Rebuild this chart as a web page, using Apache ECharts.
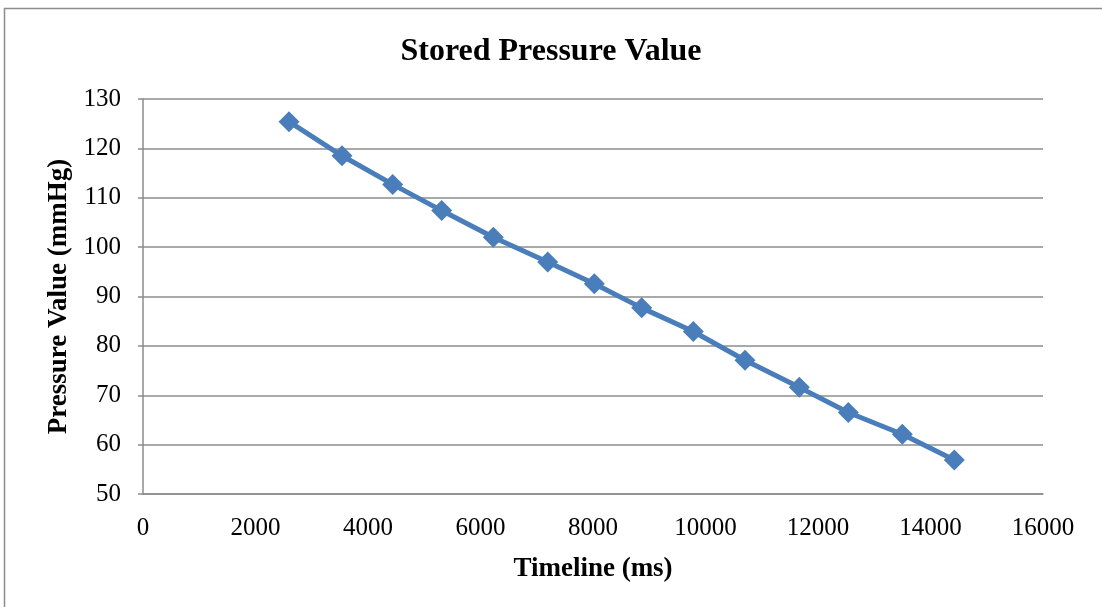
<!DOCTYPE html>
<html>
<head>
<meta charset="utf-8">
<script src="https://cdn.jsdelivr.net/npm/echarts@6/dist/echarts.min.js"></script>
<style>
  html, body { margin: 0; padding: 0; background: #ffffff; }
  #chart { width: 1102px; height: 607px; }
</style>
</head>
<body>
<div id="chart"></div>
<script>
// Stored pressure samples over time
const timeMs = [2596, 3538, 4439, 5310, 6228, 7195, 8023, 8866, 9783, 10702, 11668, 12539, 13499, 14423];
const pressureMmHg = [125.4, 118.5, 112.7, 107.4, 102.0, 97.0, 92.6, 87.7, 82.9, 77.1, 71.6, 66.5, 62.1, 56.9];
const xTicks = [0, 2000, 4000, 6000, 8000, 10000, 12000, 14000, 16000];
const yTicks = [50, 60, 70, 80, 90, 100, 110, 120, 130];

const serif = '"Liberation Serif", "Times New Roman", serif';
const points = timeMs.map((t, i) => [t, pressureMmHg[i]]);

const chart = echarts.init(document.getElementById('chart'));
chart.setOption({
  backgroundColor: '#ffffff',
  animation: false,
  title: {
    text: 'Stored Pressure Value',
    left: 'center',
    top: 31,
    textStyle: { fontFamily: serif, fontSize: 32, fontWeight: 'bold', color: '#000' }
  },
  graphic: [{
    type: 'rect',
    shape: { x: 4.5, y: 8.5, width: 1300, height: 800 },
    style: { fill: 'none', stroke: '#8c8c8c', lineWidth: 1.5 },
    silent: true
  }],
  grid: { left: 143, right: 59, top: 99, bottom: 113, containLabel: false },
  xAxis: {
    type: 'value',
    min: xTicks[0],
    max: xTicks[xTicks.length - 1],
    interval: 2000,
    name: 'Timeline (ms)',
    nameLocation: 'middle',
    nameGap: 62,
    nameTextStyle: { fontFamily: serif, fontSize: 27, fontWeight: 'bold', color: '#000' },
    axisLine: { show: true, lineStyle: { color: '#8c8c8c', width: 1.5 } },
    axisTick: { show: false },
    splitLine: { show: false },
    axisLabel: { fontFamily: serif, fontSize: 25, color: '#000', margin: 22, formatter: v => String(v) }
  },
  yAxis: {
    type: 'value',
    min: yTicks[0],
    max: yTicks[yTicks.length - 1],
    interval: 10,
    name: 'Pressure Value (mmHg)',
    nameLocation: 'middle',
    nameGap: 69,
    nameTextStyle: { fontFamily: serif, fontSize: 27, fontWeight: 'bold', color: '#000' },
    axisLine: { show: true, lineStyle: { color: '#8c8c8c', width: 1.5 } },
    axisTick: { show: true, length: 5, lineStyle: { color: '#8c8c8c', width: 1.5 } },
    splitLine: { show: true, lineStyle: { color: '#8c8c8c', width: 1.5 } },
    axisLabel: { fontFamily: serif, fontSize: 25, color: '#000', margin: 22, formatter: v => String(v) }
  },
  series: [{
    type: 'line',
    data: points,
    symbol: 'diamond',
    symbolSize: 21,
    lineStyle: { color: '#4a7ebb', width: 5 },
    itemStyle: { color: '#4a7ebb' }
  }]
});
</script>
</body>
</html>
